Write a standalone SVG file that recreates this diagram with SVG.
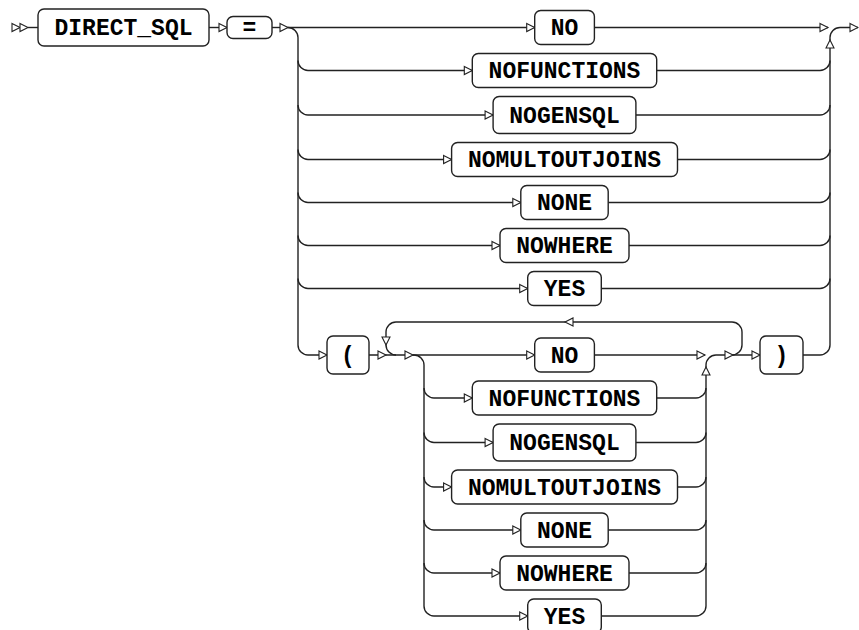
<svg xmlns="http://www.w3.org/2000/svg" xmlns:xlink="http://www.w3.org/1999/xlink" width="859" height="630" viewBox="0 0 859 630">
<style>
.c path{fill:none;stroke:#222;stroke-width:1.4}
.b{fill:#fff;stroke:#222;stroke-width:1.4}
.t{font-family:"Liberation Mono","Courier New",monospace;font-weight:bold;font-size:23px;fill:#000;text-anchor:middle}
.a{fill:#fff;stroke:#222;stroke-width:1.1}
</style>
<defs>
<path id="arr" d="M-8,-4 L0,0 L-8,4 Z"/>
</defs>
<rect width="859" height="630" fill="#fff"/>
<g id="connectors" class="c">
<path d="M28,27.5 H38"/>
<path d="M209,27.5 H227"/>
<path d="M272,27.5 H288"/>
<path d="M288,27.5 H534.7"/>
<path d="M594.4,27.5 H828"/>
<path d="M288,27.5 A10,10 0 0 1 298,37.5 V345 A10,10 0 0 0 308,355 H327"/>
<path d="M298,60.5 A10,10 0 0 0 308,70.5 H472.3"/>
<path d="M298,105 A10,10 0 0 0 308,115 H493.1"/>
<path d="M298,149.5 A10,10 0 0 0 308,159.5 H451.6"/>
<path d="M298,192.5 A10,10 0 0 0 308,202.5 H520.8"/>
<path d="M298,235.5 A10,10 0 0 0 308,245.5 H500"/>
<path d="M298,278.5 A10,10 0 0 0 308,288.5 H527.7"/>
<path d="M656.7,70.5 H820 A10,10 0 0 0 830,60.5"/>
<path d="M635.9,115 H820 A10,10 0 0 0 830,105"/>
<path d="M677.5,159.5 H820 A10,10 0 0 0 830,149.5"/>
<path d="M608.2,202.5 H820 A10,10 0 0 0 830,192.5"/>
<path d="M629,245.5 H820 A10,10 0 0 0 830,235.5"/>
<path d="M601.3,288.5 H820 A10,10 0 0 0 830,278.5"/>
<path d="M803,355 H820 A10,10 0 0 0 830,345"/>
<path d="M830,345 V37.5 A10,10 0 0 1 840,27.5 H858"/>
<path d="M369,355 H414 A10,10 0 0 1 424,365 V606"/>
<path d="M413,355 H534.7"/>
<path d="M594.4,355 H705"/>
<path d="M424,388 A10,10 0 0 0 434,398 H472.3"/>
<path d="M424,432.5 A10,10 0 0 0 434,442.5 H493.1"/>
<path d="M424,477 A10,10 0 0 0 434,487 H451.6"/>
<path d="M424,520 A10,10 0 0 0 434,530 H520.8"/>
<path d="M424,563 A10,10 0 0 0 434,573 H500"/>
<path d="M424,606 A10,10 0 0 0 434,616 H527.7"/>
<path d="M656.7,398 H696 A10,10 0 0 0 706,388"/>
<path d="M635.9,442.5 H696 A10,10 0 0 0 706,432.5"/>
<path d="M677.5,487 H696 A10,10 0 0 0 706,477"/>
<path d="M608.2,530 H696 A10,10 0 0 0 706,520"/>
<path d="M629,573 H696 A10,10 0 0 0 706,563"/>
<path d="M601.3,616 H696 A10,10 0 0 0 706,606"/>
<path d="M706,606 V365 A10,10 0 0 1 716,355 H760"/>
<path d="M732,355 A10,10 0 0 0 742,345 V332 A10,10 0 0 0 732,322 H396 A10,10 0 0 0 386,332 V345 A10,10 0 0 0 396,355"/>
<g class="a">
<use href="#arr" x="20" y="27.5"/>
<use href="#arr" x="28" y="27.5"/>
<use href="#arr" x="227" y="27.5"/>
<use href="#arr" x="288" y="27.5"/>
<use href="#arr" x="534.7" y="27.5"/>
<use href="#arr" x="472.3" y="70.5"/>
<use href="#arr" x="493.1" y="115"/>
<use href="#arr" x="451.6" y="159.5"/>
<use href="#arr" x="520.8" y="202.5"/>
<use href="#arr" x="500" y="245.5"/>
<use href="#arr" x="527.7" y="288.5"/>
<use href="#arr" x="828" y="27.5"/>
<use href="#arr" x="858" y="27.5"/>
<use href="#arr" transform="translate(830,40) rotate(-90)"/>
<use href="#arr" x="327" y="355"/>
<use href="#arr" x="386" y="355"/>
<use href="#arr" x="413" y="355"/>
<use href="#arr" x="534.7" y="355"/>
<use href="#arr" x="472.3" y="398"/>
<use href="#arr" x="493.1" y="442.5"/>
<use href="#arr" x="451.6" y="487"/>
<use href="#arr" x="520.8" y="530"/>
<use href="#arr" x="500" y="573"/>
<use href="#arr" x="527.7" y="616"/>
<use href="#arr" x="705" y="355"/>
<use href="#arr" transform="translate(706,367) rotate(-90)"/>
<use href="#arr" x="733" y="355"/>
<use href="#arr" x="760" y="355"/>
<use href="#arr" transform="translate(565,322) rotate(180)"/>
<use href="#arr" transform="translate(386,345) rotate(90)"/>
</g>
</g>
<g id="n-direct_sql"><rect class="b" x="38" y="9" width="171" height="37" rx="6"/><text class="t" x="123.5" y="35">DIRECT_SQL</text></g>
<g id="n-eq"><rect class="b" x="227" y="16.5" width="45" height="22" rx="6"/><text class="t" x="249.5" y="35">=</text></g>
<g id="o-no"><rect class="b" x="534.7" y="10.5" width="59.7" height="34" rx="6"/><text class="t" x="564.5" y="35">NO</text></g>
<g id="o-nofunctions"><rect class="b" x="472.3" y="53.5" width="184.4" height="34" rx="6"/><text class="t" x="564.5" y="78">NOFUNCTIONS</text></g>
<g id="o-nogensql"><rect class="b" x="493.1" y="96.5" width="142.8" height="37" rx="6"/><text class="t" x="564.5" y="122.5">NOGENSQL</text></g>
<g id="o-nomultoutjoins"><rect class="b" x="451.6" y="142.5" width="225.9" height="34" rx="6"/><text class="t" x="564.5" y="167">NOMULTOUTJOINS</text></g>
<g id="o-none"><rect class="b" x="520.8" y="185.5" width="87.4" height="34" rx="6"/><text class="t" x="564.5" y="210">NONE</text></g>
<g id="o-nowhere"><rect class="b" x="500" y="228.5" width="129" height="34" rx="6"/><text class="t" x="564.5" y="253">NOWHERE</text></g>
<g id="o-yes"><rect class="b" x="527.7" y="271.5" width="73.6" height="34" rx="6"/><text class="t" x="564.5" y="296">YES</text></g>
<g id="n-lparen"><rect class="b" x="327" y="336" width="42" height="38" rx="6"/><text class="t" x="348" y="362.5">(</text></g>
<g id="n-rparen"><rect class="b" x="760" y="336" width="43" height="38" rx="6"/><text class="t" x="781.5" y="362.5">)</text></g>
<g id="i-no"><rect class="b" x="534.7" y="338" width="59.7" height="34" rx="6"/><text class="t" x="564.5" y="362.5">NO</text></g>
<g id="i-nofunctions"><rect class="b" x="472.3" y="381" width="184.4" height="34" rx="6"/><text class="t" x="564.5" y="405.5">NOFUNCTIONS</text></g>
<g id="i-nogensql"><rect class="b" x="493.1" y="424" width="142.8" height="37" rx="6"/><text class="t" x="564.5" y="450">NOGENSQL</text></g>
<g id="i-nomultoutjoins"><rect class="b" x="451.6" y="470" width="225.9" height="34" rx="6"/><text class="t" x="564.5" y="494.5">NOMULTOUTJOINS</text></g>
<g id="i-none"><rect class="b" x="520.8" y="513" width="87.4" height="34" rx="6"/><text class="t" x="564.5" y="537.5">NONE</text></g>
<g id="i-nowhere"><rect class="b" x="500" y="556" width="129" height="34" rx="6"/><text class="t" x="564.5" y="580.5">NOWHERE</text></g>
<g id="i-yes"><rect class="b" x="527.7" y="599" width="73.6" height="34" rx="6"/><text class="t" x="564.5" y="623.5">YES</text></g>
</svg>
